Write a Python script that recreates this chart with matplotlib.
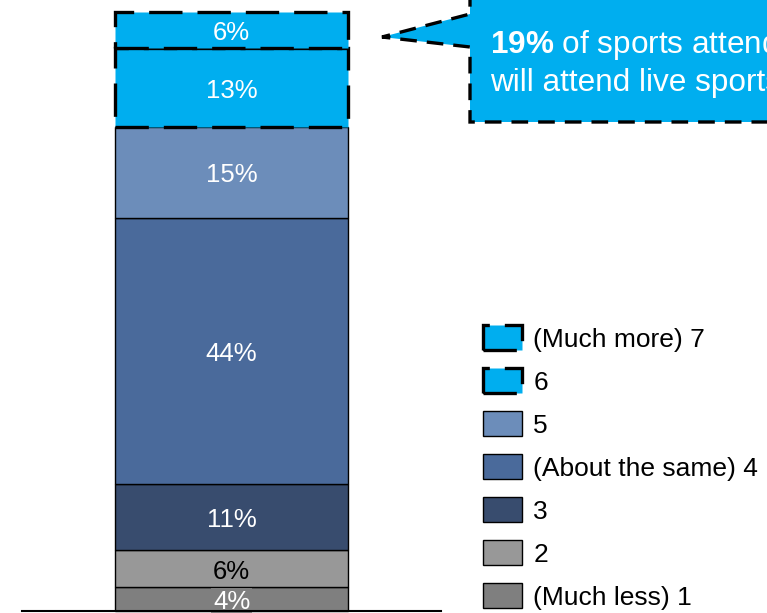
import matplotlib
matplotlib.use("Agg")
import matplotlib.pyplot as plt
from matplotlib.patches import Polygon

plt.rcParams["font.family"] = ["Liberation Sans", "DejaVu Sans"]
plt.rcParams["mathtext.fontset"] = "custom"
plt.rcParams["mathtext.bf"] = "Liberation Sans:bold"
plt.rcParams["mathtext.rm"] = "Liberation Sans"

# Share of respondents by rating, bottom (1) to top (7)
categories = ["(Much less) 1", "2", "3", "(About the same) 4", "5", "6", "(Much more) 7"]
values = [4, 6, 11, 44, 15, 13, 6]
colors = ["#7F7F7F", "#989898", "#384C6E", "#4A6A9B", "#6C8DBA", "#00AEEF", "#00AEEF"]
label_colors = ["white", "black", "white", "white", "white", "white", "white"]
highlight = [False, False, False, False, False, True, True]

callout_pct = "19%"
callout_line1 = " of sports attendees"
callout_line2 = "will attend live sports"

W, H = 767, 613
fig = plt.figure(figsize=(W / 100, H / 100), dpi=100)
ax = fig.add_axes([22 / W, 2 / H, 419 / W, 599 / H])

total = sum(values)
bottom = 0
handles = []
for i, (cat, v, c) in enumerate(zip(categories, values, colors)):
    if highlight[i]:
        kw = dict(edgecolor="black", linewidth=2.4, linestyle=(0, (10, 4.5)))
    else:
        kw = dict(edgecolor="black", linewidth=1.0, linestyle="-")
    bars = ax.bar(0, v, bottom=bottom, width=0.556, color=c, label=cat,
                  zorder=2 + i, clip_on=False, **kw)
    handles.append(bars)
    txt_kw = {}
    if i == 0:
        txt_kw["bbox"] = dict(facecolor=c, edgecolor="none", pad=1.5)
    ax.annotate(f"{v}%", (0, bottom + v / 2), xytext=(0, -3),
                textcoords="offset pixels", ha="center", va="center",
                color=label_colors[i], fontsize=18.5, zorder=20, **txt_kw)
    bottom += v

ax.set_xlim(-0.5, 0.5)
ax.set_ylim(0, total)
for side in ["top", "right", "left"]:
    ax.spines[side].set_visible(False)
ax.spines["bottom"].set_linewidth(1.5)
ax.spines["bottom"].set_zorder(30)
ax.set_xticks([])
ax.set_yticks([])

fig.legend(handles[::-1], categories[::-1], loc="upper left",
           bbox_to_anchor=(483 / W, 1 - 325 / H), frameon=False,
           borderpad=0, borderaxespad=0, fontsize=19,
           handlelength=1.48, handleheight=1.1, handletextpad=0.42,
           labelspacing=0.62)

# Callout box with pointer toward the top segments
ov = fig.add_axes([0, 0, 1, 1], zorder=50)
ov.set_xlim(0, W)
ov.set_ylim(H, 0)
ov.axis("off")
shape = [(470, -10), (470, 14), (382, 37), (470, 47), (470, 122),
         (800, 122), (800, -10)]
ov.add_patch(Polygon(shape, closed=True, facecolor="#00AEEF",
                     edgecolor="black", linewidth=2.4,
                     linestyle=(0, (5, 3)), clip_on=False))
ov.text(490, 45, r"$\mathbf{" + callout_pct.replace("%", r"\%") + "}$" + callout_line1,
        color="white", fontsize=22.7, ha="left", va="center")
ov.text(490, 83, callout_line2, color="white", fontsize=22.7,
        ha="left", va="center")

fig.savefig("out.png", dpi=100)
